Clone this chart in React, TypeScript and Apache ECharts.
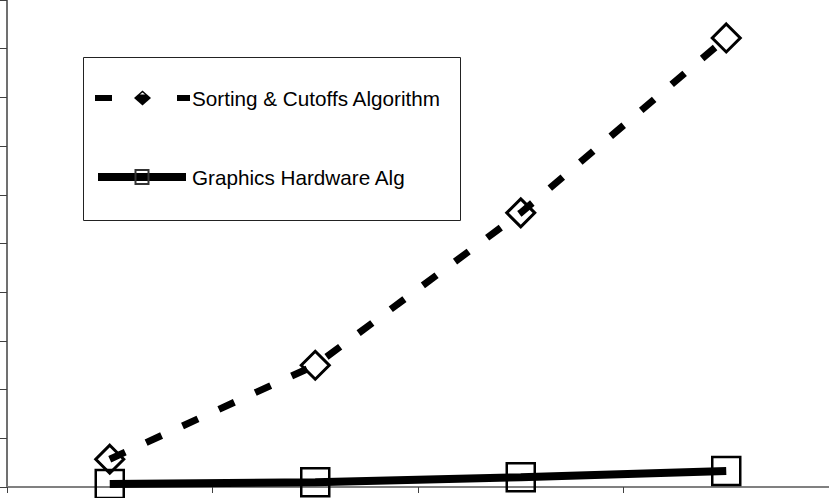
import React, { useEffect, useRef } from "react";
import * as echarts from "echarts";

const categories = ["1", "2", "3", "4"];
const sortingCutoffs = [0.57, 2.5, 5.63, 9.22];
const graphicsHardware = [0.06, 0.1, 0.2, 0.33];
const yMin = 0;
const yMax = 10;
const yInterval = 1;
const legendNames = ["Sorting & Cutoffs Algorithm", "Graphics Hardware Alg"];

const FONT = "'Liberation Sans', Arial, Helvetica, sans-serif";

export default function App() {
  const ref = useRef<HTMLDivElement>(null);
  useEffect(() => {
    if (!ref.current) return;
    const chart = echarts.init(ref.current, undefined, { renderer: "svg" });
    chart.setOption({
      animation: false,
      backgroundColor: "#ffffff",
      grid: { left: 7, right: 0, top: 0, bottom: 11, containLabel: false },
      xAxis: {
        type: "category",
        data: categories,
        boundaryGap: true,
        axisLine: { show: true, lineStyle: { color: "#808080", width: 2 } },
        axisTick: { show: true, length: 6, inside: false, lineStyle: { color: "#404040", width: 1 } },
        axisLabel: { show: false },
        splitLine: { show: false },
      },
      yAxis: {
        type: "value",
        min: yMin,
        max: yMax,
        interval: yInterval,
        axisLine: { show: true, lineStyle: { color: "#404040", width: 1.5 } },
        axisTick: { show: true, length: 7, inside: false, lineStyle: { color: "#404040", width: 1 } },
        axisLabel: { show: false },
        splitLine: { show: false },
      },
      series: [
        {
          name: legendNames[0],
          type: "line",
          data: sortingCutoffs,
          symbol: "diamond",
          symbolSize: 28,
          lineStyle: { color: "#000000", width: 7, type: [17, 23], cap: "butt" },
          itemStyle: { color: "rgba(0,0,0,0)", borderColor: "#000000", borderWidth: 3 },
          z: 3,
        },
        {
          name: legendNames[1],
          type: "line",
          data: graphicsHardware,
          symbol: "rect",
          symbolSize: 28,
          lineStyle: { color: "#000000", width: 8, type: "solid", cap: "butt" },
          itemStyle: { color: "rgba(0,0,0,0)", borderColor: "#000000", borderWidth: 2.5 },
          z: 3,
        },
      ],
      graphic: [
        {
          type: "rect",
          shape: { x: 83.5, y: 57.5, width: 377, height: 163 },
          style: { fill: "#ffffff", stroke: "#222222", lineWidth: 1 },
          z: 10,
        },
        { type: "rect", shape: { x: 95, y: 95, width: 17, height: 6 }, style: { fill: "#000" }, z: 11 },
        {
          type: "polygon",
          shape: { points: [[134, 98], [142.5, 90.5], [151, 98], [142.5, 105.5]] },
          style: { fill: "#000" },
          z: 11,
        },
        {
          type: "polygon",
          shape: { points: [[140, 94.5], [142.5, 92.5], [145, 94.5]] },
          style: { fill: "#fff" },
          z: 12,
        },
        { type: "rect", shape: { x: 177, y: 95, width: 13, height: 6 }, style: { fill: "#000" }, z: 11 },
        {
          type: "text",
          x: 192,
          y: 98,
          style: { text: legendNames[0], font: `20.7px ${FONT}`, fill: "#000", textVerticalAlign: "middle", verticalAlign: "middle" },
          z: 11,
        },
        { type: "rect", shape: { x: 98, y: 173, width: 88, height: 8 }, style: { fill: "#000" }, z: 11 },
        {
          type: "rect",
          shape: { x: 135.5, y: 170, width: 13, height: 14 },
          style: { fill: "none", stroke: "#333", lineWidth: 2 },
          z: 12,
        },
        {
          type: "text",
          x: 192,
          y: 177,
          style: { text: legendNames[1], font: `20.7px ${FONT}`, fill: "#000", textVerticalAlign: "middle", verticalAlign: "middle" },
          z: 11,
        },
      ],
    });
    return () => chart.dispose();
  }, []);
  return (
    <div
      ref={ref}
      style={{ position: "absolute", left: 0, top: 0, width: 829, height: 498 }}
    />
  );
}
